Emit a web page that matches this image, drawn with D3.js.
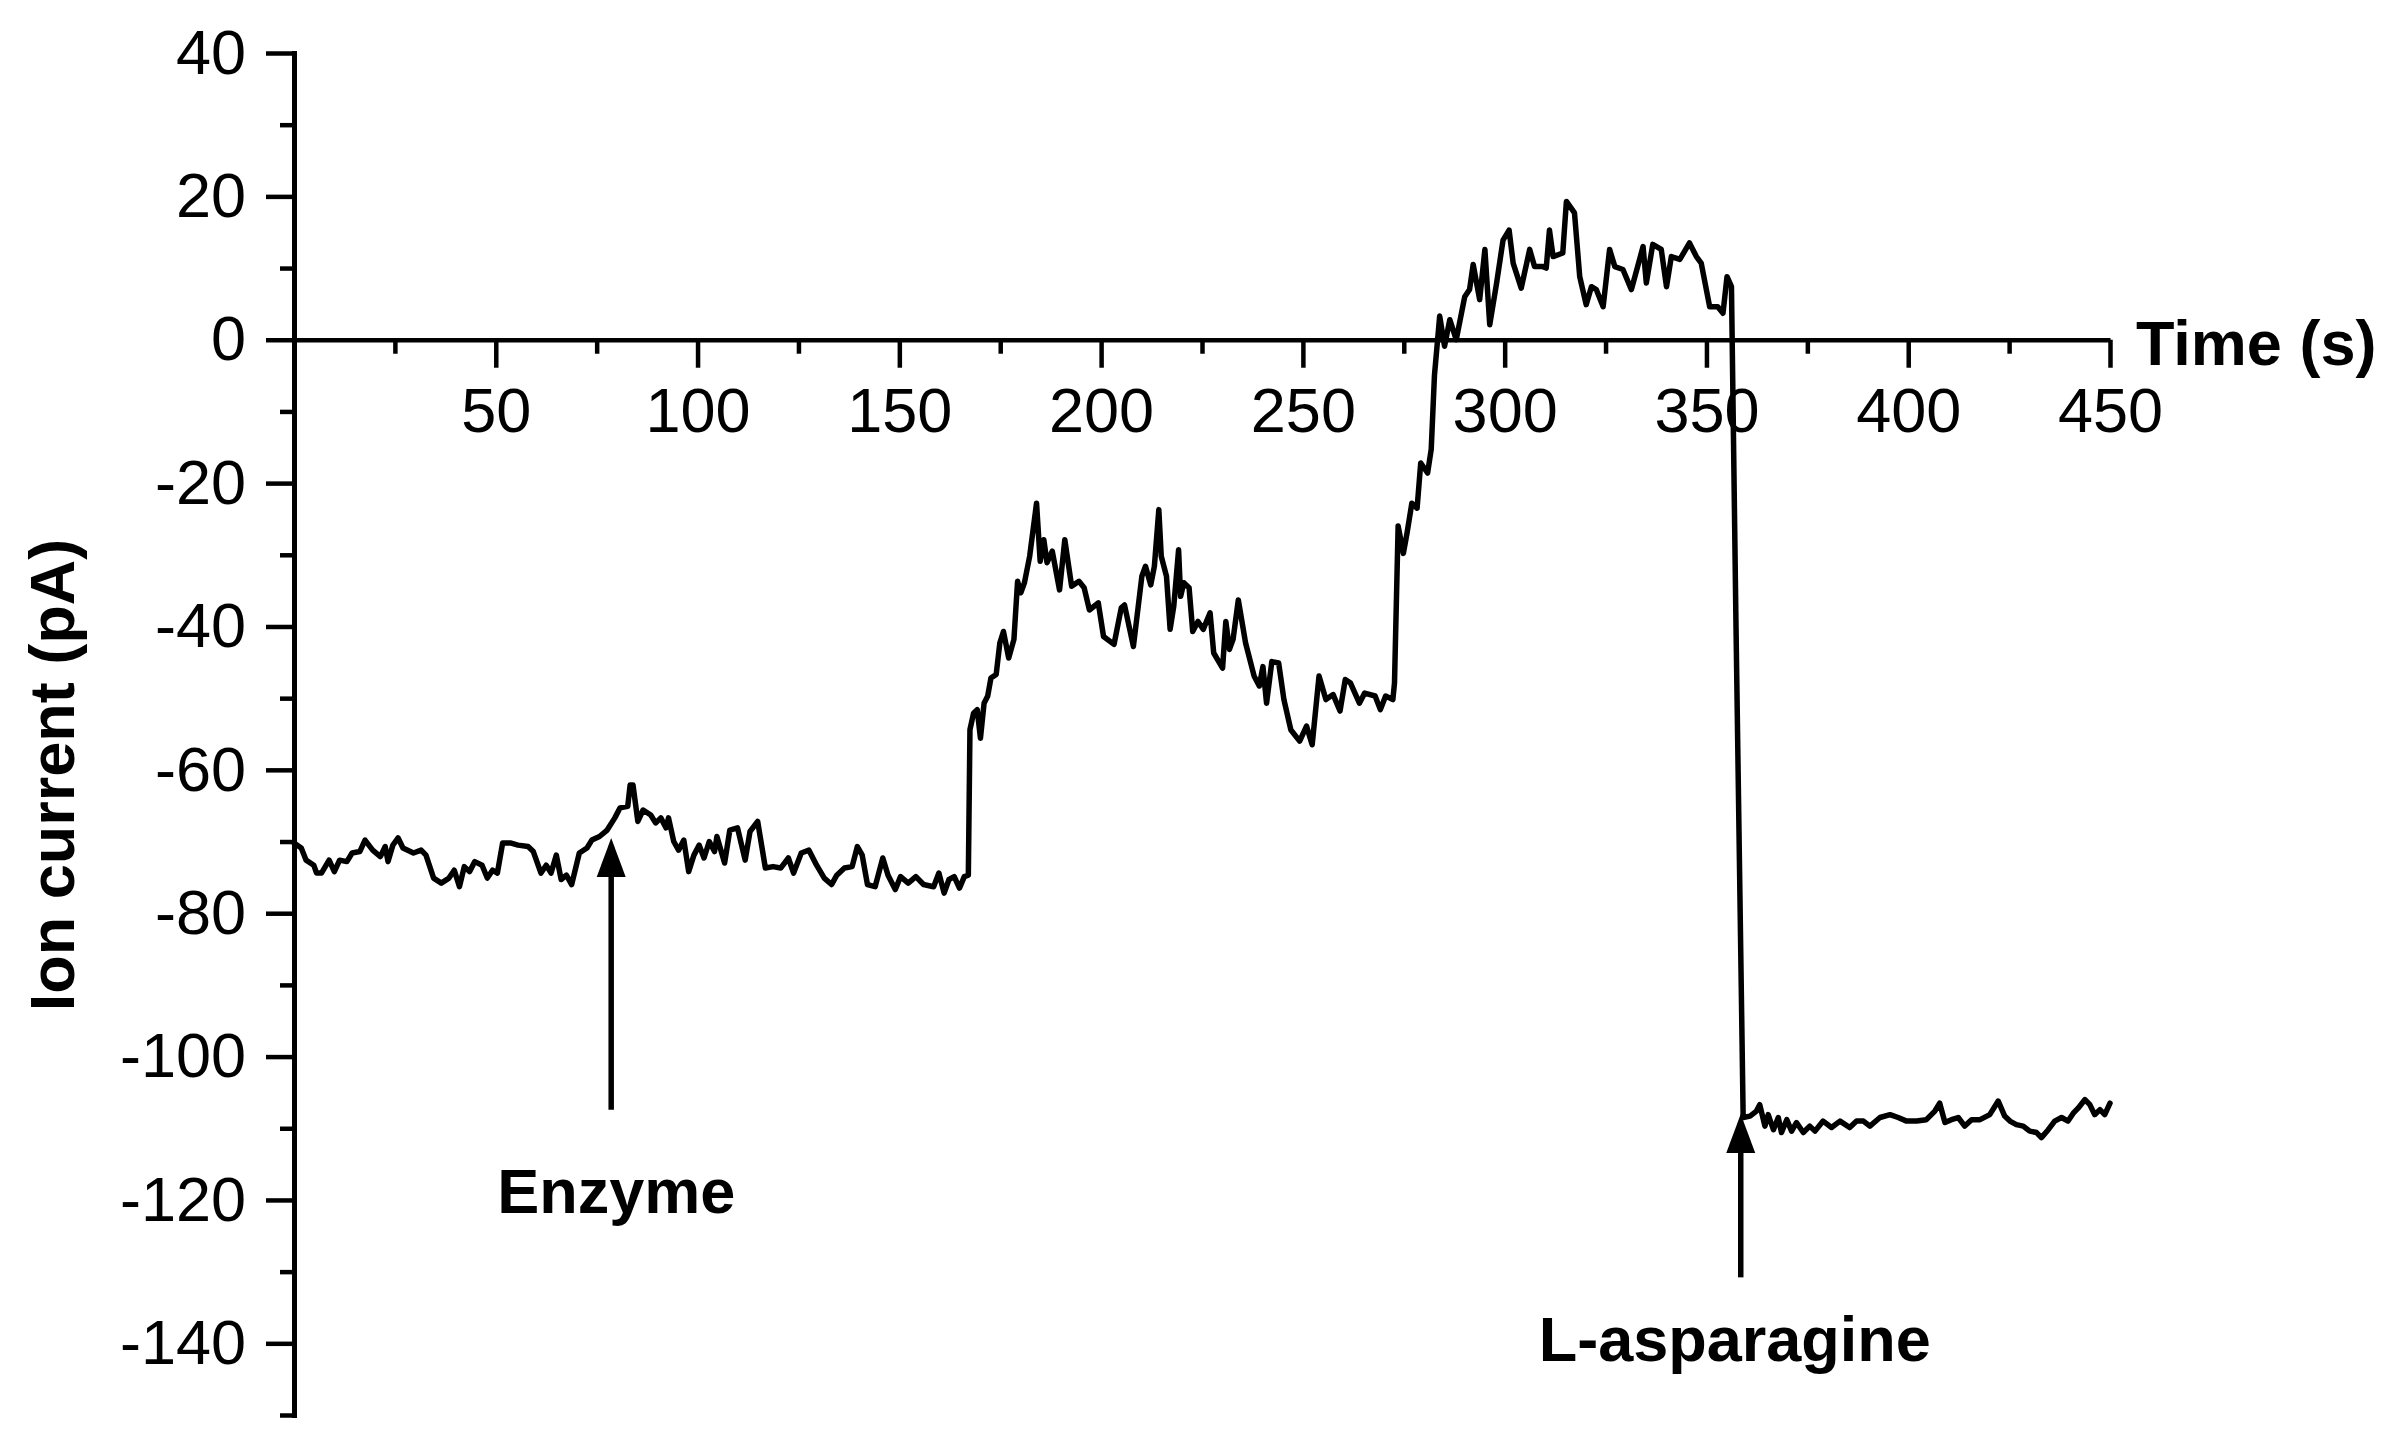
<!DOCTYPE html>
<html><head><meta charset="utf-8">
<script src="https://cdn.jsdelivr.net/npm/d3@7"></script>
<style>html,body{margin:0;padding:0;background:#fff;} svg{display:block;}</style>
</head><body>
<svg id="chart" width="2395" height="1442"></svg>
<script>
// ---- data ----
const times = [
0,1.8,3,4.9,5.6,6.8,8.7,10,11.3,13.1,14.4,16.3,17.6,19.5,21.4,22.6,23.3,24.5,25.8,27,29.6,31.5,32.7,34.6,36.5,38.4,39.7,41,42.2,43.5,44.8,46.6,47.9,49.2,50.4,51.7,53.6,55.5,58,59.3,61.2,62.5,63.7,65,66.2,67.5,68.8,70.7,72.6,73.8,75.7,77.6,79.5,80.8,82.7,83.3,84,85.2,86.5,88.4,89.6,90.9,92.2,92.8,94.1,95.3,96.6,97.8,99.1,100.4,101.6,102.9,104.2,104.8,106.7,108,109.9,111.8,113,114.9,116.8,118.7,120.6,122.5,123.8,125.7,127.6,129.5,131.4,133.2,134.5,136.4,138.3,139.6,140.8,142.1,144,145.9,147.2,149,150.3,152.2,154.1,156,158.5,159.8,161.1,162.3,163.6,164.9,166.1,167.1,
167.5,168.4,169.3,170.1,171,171.9,172.7,174,174.9,175.8,177.1,178.4,179.3,180.1,181,182.3,184,184.9,185.8,186.6,187.9,189.7,191,192.7,194.5,195.8,197.1,199.3,200.6,203.2,205,205.8,208,210.1,211,212.3,213.2,214.3,214.9,216.2,217.1,218,219.2,219.7,220.5,221.8,222.7,224,225.3,227,227.9,230.1,230.9,231.8,232.7,234,235.8,237.9,239.2,240.1,241,242.3,244,245.3,247,249.2,250.9,252.3,254,255.7,257.5,259.2,260.5,261.8,264,265.3,267.9,269.2,270.5,272.3,272.7,273.6,274.9,275.8,277,278.3,279.2,280.9,281.8,
282.6,283.9,285.1,286.4,288,290.1,291.3,292.2,293.8,295.1,296.3,298,299.6,301.1,302.1,304.1,306.2,307.4,309.5,310.3,311.1,312,314.4,315.3,317.3,318.6,320.2,321.5,322.7,324.4,326,327.3,329.3,331.4,334.3,335.1,336.7,338.8,340.1,341.3,343.4,345.8,347.5,348.7,350.8,352.8,354.1,355.1,356.2,357.3,359.1,
360.8,362.4,363.2,364.5,365.3,366.6,367.8,368.6,369.9,371.1,372.3,374,375.6,376.9,378.9,381,383.1,385.5,387.2,388.9,390.5,393,395.5,397.5,399.6,402.1,404.5,406.6,407.8,409.1,410.7,412.4,414,415.7,417.8,420.2,422.3,423.9,425.2,426.8,428.5,430.1,431.8,433,434.7,436.3,438,439.6,440.9,442.1,443.8,445,446.2,447.5,448.7,450
];
const current = [
-70.2,-70.9,-72.6,-73.3,-74.4,-74.4,-72.6,-74.2,-72.6,-72.8,-71.6,-71.4,-69.8,-71.2,-72.1,-70.7,-72.8,-70.5,-69.5,-70.9,-71.6,-71.2,-71.9,-75.1,-75.8,-75.1,-74,-76.3,-73.5,-74.2,-72.8,-73.3,-75.1,-74,-74.4,-70.2,-70.2,-70.5,-70.7,-71.4,-74.4,-73.3,-74.4,-71.9,-75.3,-74.7,-76,-71.6,-70.9,-69.8,-69.3,-68.4,-66.7,-65.3,-65.1,-62.1,-62.1,-67.2,-65.6,-66.3,-67.4,-66.7,-68.1,-66.7,-70,-71.2,-69.8,-74.2,-71.9,-70.5,-72.3,-70,-71.4,-69.3,-73,-68.4,-68.1,-72.6,-68.6,-67.2,-73.7,-73.5,-73.7,-72.3,-74.4,-71.6,-71.2,-73.3,-75.1,-76,-74.7,-73.7,-73.5,-70.7,-71.9,-76,-76.3,-72.3,-74.7,-76.7,-74.9,-75.8,-74.9,-76,-76.3,-74.4,-77.2,-75.3,-74.9,-76.5,-74.9,-74.7,
-54.4,-52.1,-51.6,-55.6,-50.7,-49.7,-47.2,-46.7,-42.3,-40.7,-44.4,-41.8,-33.7,-35.3,-33.9,-30.2,-22.8,-30.9,-27.9,-31.1,-29.5,-34.9,-27.9,-34.4,-33.7,-34.6,-37.7,-36.7,-41.4,-42.5,-37.4,-37,-42.8,-33,-31.6,-34.2,-31.6,-23.7,-30.2,-33,-40.4,-37.2,-29.3,-35.8,-33.9,-34.6,-40.7,-39.3,-40.4,-38.1,-43.7,-45.8,-39.3,-43.2,-41.8,-36.3,-42.3,-46.9,-48.3,-45.6,-50.7,-44.9,-45.1,-50.2,-54.4,-56,-53.9,-56.5,-46.9,-50.2,-49.5,-51.8,-47.4,-47.9,-50.7,-49.3,-49.7,-51.6,-49.7,-50.2,-47.9,-26,-29.8,-27,-22.8,-23.5,-17.2,-18.6,-15.3,
-5,3.3,-0.9,2.8,0,6,7,10.5,5.6,12.6,2.1,7.9,13.9,15.3,10.7,7.2,12.6,10.2,10.2,10,15.3,11.6,12.1,19.3,17.7,8.8,4.9,7.4,7,4.6,12.6,10.2,9.8,7,13,7.9,13.3,12.6,7.4,11.6,11.2,13.5,11.6,10.7,4.6,4.6,3.7,8.8,7.4,-39,-108.5,
-108.3,-107.6,-106.7,-109.7,-108.1,-110.2,-108.5,-110.6,-108.8,-110.4,-109.2,-110.6,-109.7,-110.4,-109,-109.9,-109,-109.9,-109,-109,-109.7,-108.5,-108.1,-108.5,-109,-109,-108.8,-107.6,-106.5,-109.2,-108.8,-108.5,-109.7,-108.8,-108.8,-108.1,-106.2,-108.3,-109,-109.5,-109.7,-110.4,-110.6,-111.3,-110.2,-109,-108.5,-109,-107.9,-107.2,-106,-106.7,-108.1,-107.4,-108.1,-106.5
];
const xMajorTicks = [50,100,150,200,250,300,350,400,450];
const xMinorTicks = [25,75,125,175,225,275,325,375,425];
const yMajorTicks = [40,20,0,-20,-40,-60,-80,-100,-120,-140];
const yMinorTicks = [30,10,-10,-30,-50,-70,-90,-110,-130,-150];
const xTitle = "Time (s)";
const yTitle = "Ion current (pA)";
const annotationLabels = ["Enzyme","L-asparagine"];
const annotationTimes = [78.6, 358.5];
const annotationTips = [-69.5, -108];
const annotationTails = [-107.4, -130.8];
const annotationTextLevels = [-121.8, -142.4];

// ---- drawing ----
const FONT = "'Liberation Sans', Arial, Helvetica, sans-serif";
const svg = d3.select("#chart");
svg.append("rect").attr("width",2395).attr("height",1442).attr("fill","#fff");

const x = d3.scaleLinear().domain([0,450]).range([294,2110]);
const y = d3.scaleLinear().domain([-150,40]).range([1415,53]);

function styleAxis(g){
  g.selectAll("path.domain").attr("stroke","#000").attr("stroke-width",5).attr("stroke-linecap","square");
  g.selectAll(".tick line").attr("stroke","#000").attr("stroke-width",4.5);
  g.selectAll(".tick text").attr("fill","#000").style("font-family",FONT).style("font-size","63px");
}

// y axis
const gy = svg.append("g").attr("transform",`translate(${x(0)},0)`)
  .call(d3.axisLeft(y).tickValues(yMajorTicks).tickSize(28).tickSizeOuter(0).tickPadding(20));
styleAxis(gy);
gy.selectAll(".tick text").text(d => d < 0 ? "-" + Math.abs(d) : d);
const gym = svg.append("g").attr("transform",`translate(${x(0)},0)`)
  .call(d3.axisLeft(y).tickValues(yMinorTicks).tickSize(14).tickFormat(""));
gym.select("path.domain").remove();
styleAxis(gym);

// x axis at y = 0
const gx = svg.append("g").attr("transform",`translate(0,${y(0)})`)
  .call(d3.axisBottom(x).tickValues(xMajorTicks).tickSize(28).tickSizeOuter(0).tickPadding(20));
styleAxis(gx);
gx.select("path.domain").attr("stroke-width",4.5).attr("stroke-linecap","butt");
const gxm = svg.append("g").attr("transform",`translate(0,${y(0)})`)
  .call(d3.axisBottom(x).tickValues(xMinorTicks).tickSize(14).tickFormat(""));
gxm.select("path.domain").remove();
styleAxis(gxm);

// titles
svg.append("text").attr("x", x(450) + 26).attr("y", y(0) + 25)
  .style("font-family",FONT).style("font-size","63px").style("font-weight","bold")
  .attr("fill","#000").text(xTitle);
svg.append("text").attr("transform",`translate(74,${(y(40)+y(-150))/2 + 41}) rotate(-90)`)
  .attr("text-anchor","middle")
  .style("font-family",FONT).style("font-size","63px").style("font-weight","bold")
  .attr("fill","#000").text(yTitle);

// trace
const pts = times.map((t,i)=>[t,current[i]]);
svg.append("path").datum(pts)
  .attr("fill","none").attr("stroke","#000").attr("stroke-width",5.5)
  .attr("stroke-linejoin","round").attr("stroke-linecap","round")
  .attr("d", d3.line().x(d=>x(d[0])).y(d=>y(d[1])));

// annotations
annotationLabels.forEach((lab,i)=>{
  const ax = x(annotationTimes[i]);
  const tipY = y(annotationTips[i]);
  const headH = 39, headW = 29;
  svg.append("line").attr("x1",ax).attr("x2",ax)
    .attr("y1",y(annotationTails[i])).attr("y2",tipY+headH-2)
    .attr("stroke","#000").attr("stroke-width",5.5);
  svg.append("path")
    .attr("d",`M${ax},${tipY}L${ax-headW/2},${tipY+headH}L${ax+headW/2},${tipY+headH}Z`)
    .attr("fill","#000");
  svg.append("text").attr("x", ax + (i===0?5:-6)).attr("y", y(annotationTextLevels[i]))
    .attr("text-anchor","middle")
    .style("font-family",FONT).style("font-size","63px").style("font-weight","bold")
    .attr("fill","#000").text(lab);
});
</script>
</body></html>
